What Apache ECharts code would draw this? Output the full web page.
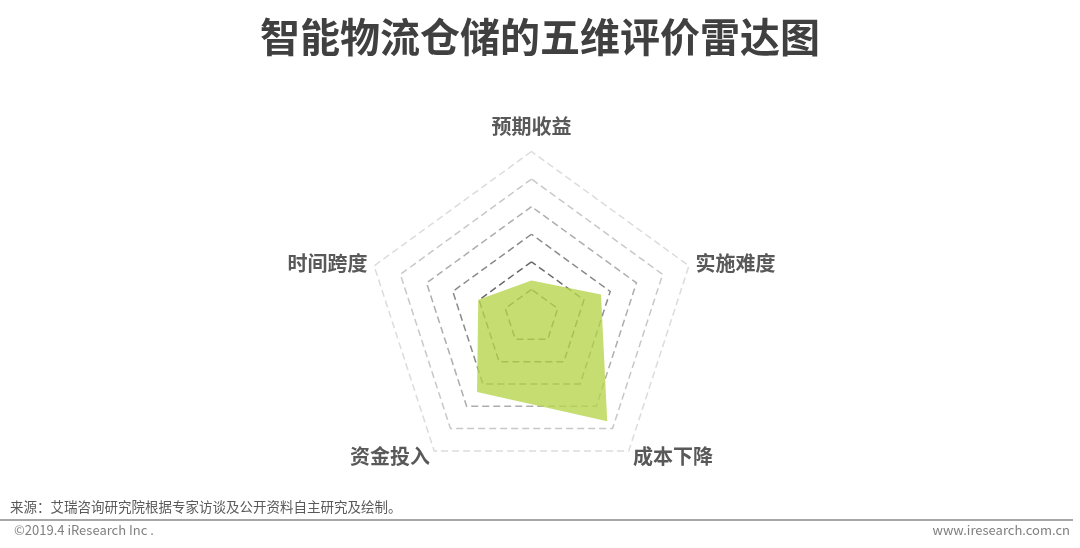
<!DOCTYPE html>
<html>
<head>
<meta charset="utf-8">
<style>
html,body{margin:0;padding:0;background:#fff;}
#chart{width:1080px;height:548px;}
</style>
<script src="https://cdn.jsdelivr.net/npm/echarts@6/dist/echarts.min.js"></script>
</head>
<body>
<div id="chart"></div>
<script>
// Indicators in ECharts radar order (counter-clockwise from top)
const indicatorNames = ['预期收益', '时间跨度', '资金投入', '成本下降', '实施难度'];
const indicatorMax = 6;
const scoreValues = [1.32, 2.03, 3.36, 4.67, 2.65];
const titleText = '智能物流仓储的五维评价雷达图';
const sourceText = '来源：艾瑞咨询研究院根据专家访谈及公开资料自主研究及绘制。';
const copyrightText = '©2019.4 iResearch Inc .';
const siteText = 'www.iresearch.com.cn';

const FONT = '"Noto Sans CJK SC", "Noto Sans", sans-serif';
const chart = echarts.init(document.getElementById('chart'));
chart.setOption({
  backgroundColor: '#ffffff',
  animation: false,
  title: {
    text: titleText,
    left: 'center',
    top: 12,
    textStyle: { fontSize: 40, fontWeight: 'bold', color: '#404040', fontFamily: FONT }
  },
  radar: {
    center: [531.5, 317],
    radius: 165.5,
    splitNumber: 6,
    shape: 'polygon',
    nameGap: 7,
    indicator: indicatorNames.map(n => ({ name: n, max: indicatorMax, min: 0 })),
    axisName: {
      color: '#595959',
      fontSize: 20,
      fontWeight: 'bold',
      fontFamily: FONT,
      padding: [8, 0, 8, 0]
    },
    axisLine: { show: false },
    axisTick: { show: false },
    axisLabel: { show: false },
    splitArea: { show: false },
    splitLine: {
      lineStyle: {
        type: [7, 4],
        width: 1.5,
        color: ['#666666', '#666666', '#6a6a6a', '#8a8a8a', '#adadad', '#c8c8c8', '#dcdcdc']
      }
    }
  },
  series: [{
    type: 'radar',
    symbol: 'none',
    lineStyle: { width: 0 },
    areaStyle: { color: '#b8d54f', opacity: 0.8 },
    data: [{ value: scoreValues, name: '评价' }]
  }],
  graphic: [
    {
      type: 'text', left: 10, top: 500,
      style: { text: sourceText, fontSize: 13.5, fill: '#595959', fontFamily: FONT }
    },
    {
      type: 'line', shape: { x1: 0, y1: 520, x2: 1073, y2: 520 },
      style: { stroke: '#8a8a8a', lineWidth: 1.5 }
    },
    {
      type: 'text', left: 14, top: 524,
      style: { text: copyrightText, fontSize: 13, fill: '#7f7f7f', fontFamily: FONT }
    },
    {
      type: 'text', right: 10, top: 524,
      style: { text: siteText, fontSize: 13, fill: '#7f7f7f', fontFamily: FONT }
    }
  ]
});
</script>
</body>
</html>
